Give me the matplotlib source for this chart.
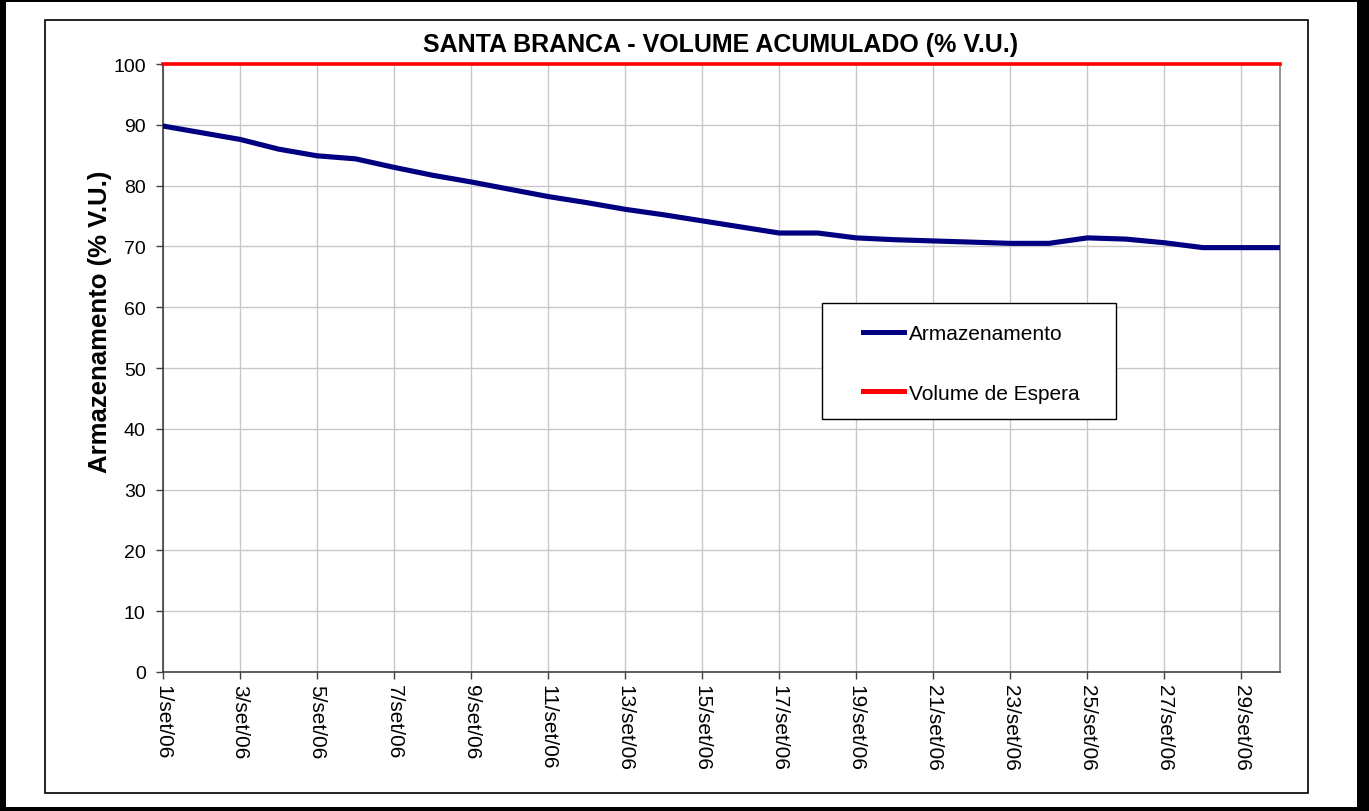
import matplotlib
matplotlib.use("Agg")
import matplotlib.pyplot as plt
from matplotlib.patches import Rectangle

plt.rcParams['font.family'] = ['Liberation Sans', 'DejaVu Sans']

days = list(range(1, 31))
armazenamento = [89.8, 88.7, 87.6, 86.0, 84.9, 84.4, 83.0, 81.7, 80.6, 79.4,
                 78.2, 77.2, 76.1, 75.2, 74.2, 73.2, 72.2, 72.2, 71.4, 71.1,
                 70.9, 70.7, 70.5, 70.5, 71.4, 71.2, 70.6, 69.8, 69.8, 69.8]
volume_espera = [100.0] * 30
tick_days = list(range(1, 31, 2))
tick_labels = [f"{d}/set/06" for d in tick_days]
y_ticks = list(range(0, 101, 10))

W, H = 1369, 812
fig = plt.figure(figsize=(W / 100, H / 100), dpi=100)


def fig_rect(x0, y0, x1, y1, **kw):
    """Rectangle in figure pixel coords (y from top)."""
    return Rectangle((x0 / W, 1 - y1 / H), (x1 - x0) / W, (y1 - y0) / H,
                     transform=fig.transFigure, **kw)


# outer thick black border
for r in [(0, 0, 6, H), (0, 0, W, 3), (1357, 0, W, H), (0, 808, W, H)]:
    fig.patches.append(fig_rect(*r, facecolor='black', edgecolor='none', zorder=10))
# inner thin frame
fig.patches.append(fig_rect(45, 21, 1308, 794, fill=False, edgecolor='black',
                            linewidth=1.2, zorder=10))

ax = fig.add_axes([163 / W, 1 - 673 / H, (1280 - 163) / W, (673 - 65) / H])

ax.plot(days, armazenamento, color='#000080', linewidth=3.7, label='Armazenamento',
        zorder=3)
ax.plot(days, volume_espera, color='#FF0000', linewidth=2.6, label='Volume de Espera',
        clip_on=False, zorder=4)

ax.set_xlim(1, 30)
ax.set_ylim(0, 100)
ax.set_xticks(tick_days)
ax.set_xticklabels(tick_labels, rotation=-90, fontsize=15, va='top', ha='center')
ax.set_yticks(y_ticks)
ax.set_yticklabels([str(v) for v in y_ticks], fontsize=14)
ax.tick_params(axis='both', direction='out', length=5, width=1, color='#404040')
ax.tick_params(axis='y', pad=7.5)
ax.tick_params(axis='x', pad=4)

ax.grid(True, color='#c8c8c8', linewidth=1)
ax.set_axisbelow(True)
for side in ['left', 'bottom']:
    ax.spines[side].set_color('#404040')
    ax.spines[side].set_linewidth(1.2)
for side in ['right', 'top']:
    ax.spines[side].set_color('#808080')
    ax.spines[side].set_linewidth(1.2)

ax.set_ylabel('Armazenamento (% V.U.)', fontsize=18.5, fontweight='bold')
ax.yaxis.label.set_va('center')
ax.yaxis.set_label_coords((100 - 163) / 1117, (673 - 322) / 608)

fig.text(721 / W, 1 - 45 / H, 'SANTA BRANCA - VOLUME ACUMULADO (% V.U.)',
         fontsize=18, fontweight='bold', ha='center', va='center')

# legend: box drawn separately (inside the axes so it sits under the legend entries)
box = fig_rect(822, 304, 1116, 420, facecolor='white', edgecolor='black',
               linewidth=1.0, zorder=5, clip_on=False)
ax.add_patch(box)
leg = ax.legend(loc='upper left', bbox_to_anchor=(863 / W, 1 - 325 / H),
                bbox_transform=fig.transFigure, fontsize=15, frameon=False,
                handlelength=1.95, handletextpad=0.25, labelspacing=1.95,
                borderpad=0, borderaxespad=0)
leg.set_zorder(6)
for ln in leg.get_lines():
    ln.set_linewidth(3.6)

fig.savefig('out.png', dpi=100)
